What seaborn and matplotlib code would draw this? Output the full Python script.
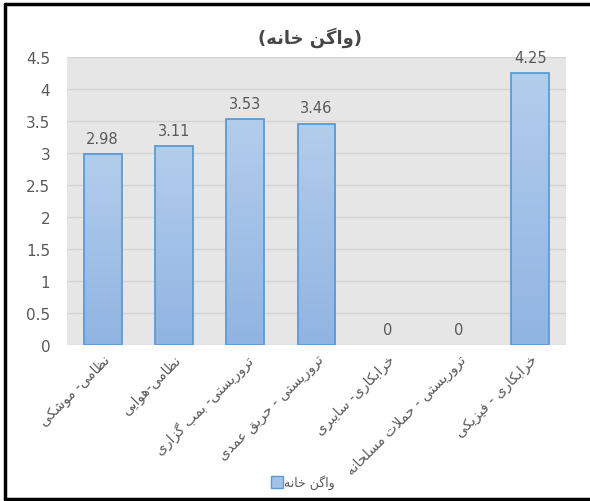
import numpy as np
import pandas as pd
import matplotlib
matplotlib.use("Agg")
import matplotlib.pyplot as plt
import seaborn as sns
from matplotlib.colors import LinearSegmentedColormap
from matplotlib.lines import Line2D

# ---- data ----
categories = [
    "نظامی- موشکی",
    "نظامی-هوایی",
    "تروریستی- بمب گزاری",
    "تروریستی - حریق عمدی",
    "خرابکاری- سایبری",
    "تروریستی - حملات مسلحانه",
    "خرابکاری - فیزیکی",
]
values = [2.98, 3.11, 3.53, 3.46, 0, 0, 4.25]
series_name = "واگن خانه"
title_text = "(واگن خانه)"
y_ticks = [0, 0.5, 1, 1.5, 2, 2.5, 3, 3.5, 4, 4.5]

# ---- minimal Arabic/Persian shaping (contextual forms + RTL order) ----
# (isolated, final, initial, medial); None for initial/medial = right-joining only
FORMS = {
    "ا": ("\uFE8D", "\uFE8E", None, None),
    "ب": ("\uFE8F", "\uFE90", "\uFE91", "\uFE92"),
    "ت": ("\uFE95", "\uFE96", "\uFE97", "\uFE98"),
    "ح": ("\uFEA1", "\uFEA2", "\uFEA3", "\uFEA4"),
    "خ": ("\uFEA5", "\uFEA6", "\uFEA7", "\uFEA8"),
    "د": ("\uFEA9", "\uFEAA", None, None),
    "ر": ("\uFEAD", "\uFEAE", None, None),
    "ز": ("\uFEAF", "\uFEB0", None, None),
    "س": ("\uFEB1", "\uFEB2", "\uFEB3", "\uFEB4"),
    "ش": ("\uFEB5", "\uFEB6", "\uFEB7", "\uFEB8"),
    "ظ": ("\uFEC5", "\uFEC6", "\uFEC7", "\uFEC8"),
    "ع": ("\uFEC9", "\uFECA", "\uFECB", "\uFECC"),
    "ف": ("\uFED1", "\uFED2", "\uFED3", "\uFED4"),
    "ق": ("\uFED5", "\uFED6", "\uFED7", "\uFED8"),
    "ل": ("\uFEDD", "\uFEDE", "\uFEDF", "\uFEE0"),
    "م": ("\uFEE1", "\uFEE2", "\uFEE3", "\uFEE4"),
    "ن": ("\uFEE5", "\uFEE6", "\uFEE7", "\uFEE8"),
    "ه": ("\uFEE9", "\uFEEA", "\uFEEB", "\uFEEC"),
    "و": ("\uFEED", "\uFEEE", None, None),
    "ی": ("\uFBFC", "\uFBFD", "\uFBFE", "\uFBFF"),
    "ک": ("\uFB8E", "\uFB8F", "\uFB90", "\uFB91"),
    "گ": ("\uFB92", "\uFB93", "\uFB94", "\uFB95"),
}


def _dual(c):
    return c in FORMS and FORMS[c][2] is not None


def shape(text):
    chars = list(text)
    n = len(chars)
    out = []
    i = 0
    while i < n:
        c = chars[i]
        if c not in FORMS:
            out.append(c)
            i += 1
            continue
        conn_prev = i > 0 and _dual(chars[i - 1])
        if c == "ل" and i + 1 < n and chars[i + 1] == "ا":
            out.append("\uFEFC" if conn_prev else "\uFEFB")
            i += 2
            continue
        conn_next = _dual(c) and i + 1 < n and chars[i + 1] in FORMS
        iso, fin, ini, med = FORMS[c]
        if conn_prev and conn_next:
            out.append(med)
        elif conn_prev:
            out.append(fin)
        elif conn_next:
            out.append(ini)
        else:
            out.append(iso)
        i += 1
    s = "".join(out)[::-1]
    return s.translate(str.maketrans("()", ")("))


# ---- figure ----
sns.set_theme(style="white")
plt.rcParams["font.family"] = ["DejaVu Sans"]

W, H = 590, 502
fig = plt.figure(figsize=(W / 100, H / 100), dpi=100)
fig.patch.set_facecolor("white")

ax = fig.add_axes([67 / W, 1 - 346 / H, (566 - 67) / W, (346 - 58) / H])
ax.set_facecolor("#e6e6e6")

df = pd.DataFrame({"cat": [shape(c) for c in categories], "val": values})
sns.barplot(data=df, x="cat", y="val", ax=ax, color="#a4c2e8", saturation=1,
            width=0.53, edgecolor="#5b9bd5", linewidth=1.3, zorder=3)

# vertical gradient fill inside each bar
grad_cmap = LinearSegmentedColormap.from_list("bar", ["#90b4e2", "#b3cdec"])
grad = np.linspace(0, 1, 256).reshape(-1, 1)
for bar in list(ax.patches):
    h = bar.get_height()
    bar.set_joinstyle("miter")
    if h <= 0:
        bar.set_visible(False)
        continue
    x0 = bar.get_x()
    w = bar.get_width()
    im = ax.imshow(grad, extent=[x0, x0 + w, 0, h], origin="lower", aspect="auto",
                   cmap=grad_cmap, zorder=3.5, interpolation="bilinear")
    im.set_clip_path(bar)
    bar.set_facecolor("none")
    bar.set_zorder(4)

ax.set_xlim(-0.5, len(categories) - 0.5)
ax.set_ylim(0, 4.5)
ax.set_yticks(y_ticks)
ax.set_yticklabels([f"{t:g}" for t in y_ticks])
ax.yaxis.grid(True, color="#d4d4d4", linewidth=1, zorder=1)
ax.set_axisbelow(True)
for sp in ax.spines.values():
    sp.set_visible(False)

ax.tick_params(axis="y", length=0, pad=12, labelsize=11, labelcolor="#595959")
ax.tick_params(axis="x", length=0, pad=5, labelsize=10, labelcolor="#595959")
for lab in ax.get_xticklabels():
    lab.set_rotation(45)
    lab.set_ha("right")
    lab.set_rotation_mode("anchor")
ax.set_xlabel("")
ax.set_ylabel("")

# value labels
for i, v in enumerate(values):
    ax.annotate(f"{v:g}", (i, v), xytext=(0, 6), textcoords="offset points",
                ha="center", va="bottom", fontsize=10.5, color="#595959")

# title
fig.text(310 / W, 1 - 38 / H, shape(title_text), ha="center", va="center",
         fontsize=13, fontweight="bold", color="#474747")

# legend
handle = Line2D([], [], marker="s", linestyle="none", markersize=8,
                markerfacecolor="#a4c2e8", markeredgecolor="#5b9bd5")
fig.legend([handle], [shape(series_name)], loc="center",
           bbox_to_anchor=(303 / W, 1 - 483 / H), frameon=False,
           fontsize=9, labelcolor="#595959", handletextpad=0.1,
           handlelength=1.0)

# outer frame: left, top and bottom edges
lw = 2.5
fig.add_artist(Line2D([5 / W, 5 / W], [1 - 5 / H, 1 - 500 / H], color="black",
                      lw=lw, transform=fig.transFigure))
fig.add_artist(Line2D([5 / W, 1.0], [1 - 5 / H, 1 - 5 / H], color="black",
                      lw=lw, transform=fig.transFigure))
fig.add_artist(Line2D([5 / W, 1.0], [1 - 500 / H, 1 - 500 / H], color="black",
                      lw=lw, transform=fig.transFigure))

fig.savefig("out.png", dpi=100)
